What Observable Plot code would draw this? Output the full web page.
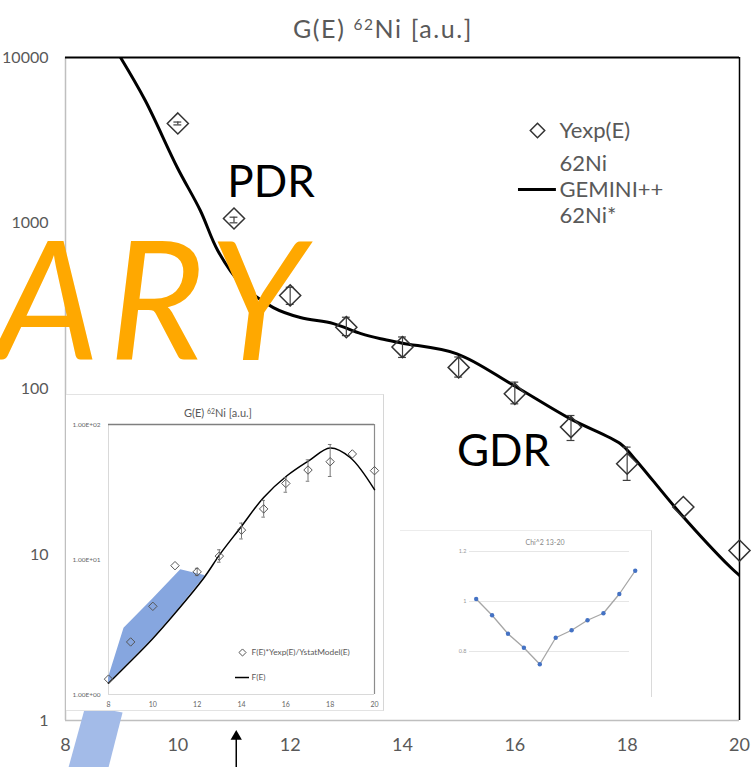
<!DOCTYPE html>
<html><head><meta charset="utf-8">
<script src="https://cdn.jsdelivr.net/npm/d3@7"></script>
<script src="https://cdn.jsdelivr.net/npm/@observablehq/plot@0.6"></script>
<style>
body{margin:0;background:#fff;}
#wrap{position:relative;width:754px;height:767px;overflow:hidden;font-family:Lato,"Open Sans",sans-serif;}
#wrap svg{position:absolute;}
.ttl{position:absolute;text-align:center;color:#595959;white-space:nowrap;}
.ttl sup{font-size:0.62em;vertical-align:0;position:relative;top:-0.5em;}
</style></head><body><div id="wrap"></div>
<script>
const FONT = 'Lato, "Open Sans", sans-serif';
// ---- main chart data ----
const xTicks = [8, 10, 12, 14, 16, 18, 20];
const yTicks = [1, 10, 100, 1000, 10000];
const expE   = [10, 11, 12, 13, 14, 15, 16, 17, 18, 19, 20];
const expV   = [4000, 1068, 367, 236, 179, 135, 93.5, 58.9, 35.4, 19.4, 10.6];
const expLo  = [3920, 1006, 324, 210, 155, 118, 81.4, 48.9, 28.1, 19.4, 10.6];
const expHi  = [4080, 1088, 411, 271, 206, 156, 110, 69.2, 44.6, 19.4, 10.6];
const gemE   = [8.98, 9.42, 9.99, 10.40, 10.71, 11.12, 11.70, 12.18, 12.77, 13.26, 13.61, 14.0, 14.97, 15.98, 16.99, 17.88, 18.11, 18.95, 19.84, 20];
const gemV   = [10000, 5500, 2170, 1194, 685, 433, 310, 270, 248, 216, 201, 189, 163, 105, 66, 46.7, 38.8, 17.7, 8.4, 7.5];
const annotLabels = ["PDR", "GDR"];
const annotE = [10.88, 14.97];
const annotV = [1436, 34.5];
const watermark = "ARY";
const markE = [6.75], markV = [148.6];
const blueE = [8.357, 9.016, 8.707, 7.99];
const blueV = [1.23, 1.118, 0.435, 0.435];
const arrowE = [11.04], arrowFrom = [0.4], arrowTo = [0.8];
const legendLine = [{E1: 16.065, E2: 16.74, v: 1598}];
const legendLabels = ["Yexp(E)", "62Ni", "GEMINI++", "62Ni*"];

// ---- inset 1 data ----
const inTicksX = [8, 10, 12, 14, 16, 18, 20];
const inTicksY = [1, 10, 100];
const inTickLabels = ["1.00E+00", "1.00E+01", "1.00E+02"];
const inE  = [8, 9, 10, 11, 12, 13, 14, 15, 16, 17, 18, 19, 20];
const inV  = [1.3, 2.45, 4.5, 9.0, 8.1, 10.6, 16.5, 23.7, 36.6, 46, 53, 60.5, 45.5];
const inErrE  = [12, 13, 14, 15, 16, 17, 18];
const inErrLo = [7.6, 9.55, 14.2, 20.6, 31.5, 38, 41.2];
const inErrHi = [8.6, 11.8, 18.6, 27.4, 40.3, 54.7, 71.1];
const fE = [8, 8.84, 9.97, 11.0, 12.3, 13.04, 13.95, 15, 16.05, 17.03, 18, 18.9, 20];
const fV = [1.21, 1.66, 2.57, 4.0, 7.3, 11, 17.2, 28.8, 41.7, 53.8, 67, 57, 32.9];
const bandE  = [8, 8.7, 10, 11, 11.26, 12.34];
const bandLo = [1.21, 1.57, 2.6, 4.0, 4.5, 7.45];
const bandHi = [1.33, 3.1, 5.1, 7.57, 8.4, 7.6];
const inLegendLine = [{E1: 13.73, E2: 14.36, v: 1.336}];

// ---- inset 2 data ----
const chiX = [0, 1, 2, 3, 4, 5, 6, 7, 8, 9, 10];
const chiV = [1.010, 0.945, 0.871, 0.815, 0.749, 0.855, 0.885, 0.925, 0.953, 1.030, 1.123];
const chiTicks = [0.8, 1, 1.2];

const exp = expE.map((E, i) => ({E, v: expV[i], lo: expLo[i], hi: expHi[i]}));
const expErr = exp.filter(d => d.hi > d.lo);
const gem = gemE.map((E, i) => ({E, v: gemV[i]}));
const annot = annotLabels.map((t, i) => ({t, E: annotE[i], v: annotV[i]}));
const blue = blueE.map((E, i) => ({E, v: blueV[i]}));
const arrows = arrowE.map((E, i) => ({E, a: arrowFrom[i], b: arrowTo[i]}));
const ins = inE.map((E, i) => ({E, v: inV[i]}));
const inErr = inErrE.map((E, i) => ({E, lo: inErrLo[i], hi: inErrHi[i]}));
const fLine = fE.map((E, i) => ({E, v: fV[i]}));
const band = bandE.map((E, i) => ({E, lo: bandLo[i], hi: bandHi[i]}));
const chi = chiX.map((x, i) => ({x, v: chiV[i]}));

const wrap = document.getElementById("wrap");
const grey = "#595959";
const legendDy = [73, 106, 132, 158];

const main = Plot.plot({
  width: 754, height: 767, marginLeft: 65, marginRight: 15, marginTop: 57, marginBottom: 47,
  style: {fontFamily: FONT, background: "#fff", overflow: "visible"},
  x: {domain: [8, 20], label: null},
  y: {type: "log", domain: [1, 10000], label: null},
  marks: [
    Plot.ruleY([1], {stroke: "#bfbfbf", strokeWidth: 1.5}),
    Plot.ruleX([8], {stroke: "#bfbfbf", strokeWidth: 1.5}),
    Plot.ruleY([10000], {stroke: "#000", strokeWidth: 2}),
    Plot.ruleX([20], {stroke: "#000", strokeWidth: 1.5}),
    Plot.axisX({ticks: xTicks, tickSize: 0, tickPadding: 18, fontSize: 18, fill: grey, label: null, tickFormat: d => String(d)}),
    Plot.axisY({ticks: yTicks, tickSize: 0, tickPadding: 17, fontSize: 16, fill: grey, label: null, tickFormat: d => String(d)}),
    Plot.line(gem, {x: "E", y: "v", stroke: "#000", strokeWidth: 3, curve: "catmull-rom", clip: true}),
    Plot.ruleX(expErr, {x: "E", y1: "lo", y2: "hi", stroke: "#404040", strokeWidth: 1.2}),
    Plot.ruleY(expErr, {y: "lo", x1: d => d.E - 0.07, x2: d => d.E + 0.07, stroke: "#404040", strokeWidth: 1.2}),
    Plot.ruleY(expErr, {y: "hi", x1: d => d.E - 0.07, x2: d => d.E + 0.07, stroke: "#404040", strokeWidth: 1.2}),
    Plot.dot(exp, {x: "E", y: "v", symbol: "diamond2", r: 9.5, stroke: "#333", strokeWidth: 1.5, fill: "none"}),
    // legend
    Plot.dot([0], {frameAnchor: "top-left", dx: 472, dy: 73, symbol: "diamond2", r: 6.5, stroke: "#333", strokeWidth: 1.5, fill: "none"}),
    ...legendLabels.map((t, i) => Plot.text([t], {text: d => d, frameAnchor: "top-left", dx: 494, dy: legendDy[i], textAnchor: "start", lineAnchor: "middle", fontSize: 22, fill: grey})),
    Plot.ruleY(legendLine, {y: "v", x1: "E1", x2: "E2", stroke: "#000", strokeWidth: 3}),
    // annotations
    Plot.text(annot, {x: "E", y: "v", text: "t", textAnchor: "start", lineAnchor: "bottom", fontSize: 44, fill: "#000"}),
    Plot.text(markE.map((E, i) => ({E, v: markV[i], t: watermark})), {x: "E", y: "v", text: "t", textAnchor: "start", lineAnchor: "bottom", fontSize: 165, fontStyle: "italic", fill: "#FFA800"}),
    Plot.line(blue, {x: "E", y: "v", fill: "#a3bbe8", stroke: "none"}),
    Plot.ruleX(arrows, {x: "E", y1: "a", y2: "b", stroke: "#000", strokeWidth: 1.5}),
    Plot.dot(arrows, {x: "E", y: "b", symbol: "triangle", r: 4.2, fill: "#000", stroke: "none"})
  ]
});
d3.select(main).selectAll("text").filter(function () { return this.textContent === watermark; }).attr("letter-spacing", "9px");
main.style.left = "0px"; main.style.top = "0px";
wrap.appendChild(main);

const in1 = Plot.plot({
  width: 317, height: 315, marginLeft: 42, marginRight: 9, marginTop: 29, marginBottom: 16,
  style: {fontFamily: FONT, background: "#fff", overflow: "visible", borderTop: "1px solid #e3e3e3", borderRight: "1px solid #d6d6d6", borderBottom: "1px solid #e3e3e3"},
  x: {domain: [8, 20], label: null},
  y: {type: "log", domain: [1, 100], label: null},
  marks: [
    Plot.ruleX([8], {stroke: "#d9d9d9"}),
    Plot.ruleY([1], {stroke: "#d9d9d9"}),
    Plot.ruleY([100], {stroke: "#7f7f7f", strokeWidth: 1.5}),
    Plot.ruleX([20], {stroke: "#8c8c8c", strokeWidth: 1.2}),
    Plot.axisX({ticks: inTicksX, tickSize: 0, tickPadding: 8, fontSize: 7, fill: "#666", label: null, tickFormat: d => String(d)}),
    Plot.axisY({ticks: inTicksY, tickSize: 0, tickPadding: 8, fontSize: 6.5, fill: "#666", label: null, tickFormat: d => inTickLabels[inTicksY.indexOf(d)]}),
    Plot.areaY(band, {x: "E", y1: "lo", y2: "hi", fill: "#86a6df"}),
    Plot.line(fLine, {x: "E", y: "v", stroke: "#000", strokeWidth: 1.5, curve: "catmull-rom"}),
    Plot.ruleX(inErr, {x: "E", y1: "lo", y2: "hi", stroke: "#777", strokeWidth: 1}),
    Plot.ruleY(inErr, {y: "lo", x1: d => d.E - 0.08, x2: d => d.E + 0.08, stroke: "#777", strokeWidth: 1}),
    Plot.ruleY(inErr, {y: "hi", x1: d => d.E - 0.08, x2: d => d.E + 0.08, stroke: "#777", strokeWidth: 1}),
    Plot.dot(ins, {x: "E", y: "v", symbol: "diamond2", r: 3.8, stroke: "#555", strokeWidth: 1, fill: "none"}),
    Plot.dot([0], {frameAnchor: "top-left", dx: 134, dy: 228, symbol: "diamond2", r: 3.2, stroke: "#555", strokeWidth: 1, fill: "none"}),
    Plot.text(["F(E)*Yexp(E)/YstatModel(E)"], {text: d => d, frameAnchor: "top-left", dx: 143, dy: 228, textAnchor: "start", lineAnchor: "middle", fontSize: 8.3, fill: grey}),
    Plot.ruleY(inLegendLine, {y: "v", x1: "E1", x2: "E2", stroke: "#000", strokeWidth: 1.5}),
    Plot.text(["F(E)"], {text: d => d, frameAnchor: "top-left", dx: 143, dy: 253, textAnchor: "start", lineAnchor: "middle", fontSize: 8.3, fill: grey})
  ]
});
in1.style.left = "66px"; in1.style.top = "394px";
wrap.appendChild(in1);

const in2 = Plot.plot({
  width: 251, height: 166, marginLeft: 69, marginRight: 22, marginTop: 20, marginBottom: 46,
  style: {fontFamily: FONT, background: "#fff", overflow: "visible", borderTop: "1px solid #ececec", borderRight: "1px solid #dadada"},
  x: {domain: [-0.42, 9.64], axis: null},
  y: {domain: [0.8, 1.2], label: null},
  marks: [
    Plot.ruleY(chiTicks, {stroke: "#e6e6e6"}),
    Plot.axisY({ticks: chiTicks, tickSize: 0, tickPadding: 3, fontSize: 5.5, fill: "#999", label: null, tickFormat: d => String(d)}),
    Plot.line(chi, {x: "x", y: "v", stroke: "#a6a6a6", strokeWidth: 1.3}),
    Plot.dot(chi, {x: "x", y: "v", r: 2.2, fill: "#4472c4", stroke: "none"}),
    Plot.text(["Chi^2 13-20"], {text: d => d, frameAnchor: "top-left", dx: 56, dy: -9, lineAnchor: "middle", fontSize: 7, fill: "#888"})
  ]
});
in2.style.left = "400px"; in2.style.top = "530px";
wrap.appendChild(in2);

const t1 = document.createElement("div");
t1.className = "ttl";
t1.style.cssText = "left:0;width:766px;top:16px;font-size:25px;line-height:25px;letter-spacing:1.6px;";
t1.innerHTML = "G(E) <sup>62</sup>Ni [a.u.]";
wrap.appendChild(t1);

const t2 = document.createElement("div");
t2.className = "ttl";
t2.style.cssText = "left:118px;width:200px;top:407px;font-size:11px;line-height:11px;";
t2.innerHTML = "G(E) <sup>62</sup>Ni [a.u.]";
wrap.appendChild(t2);
</script></body></html>
